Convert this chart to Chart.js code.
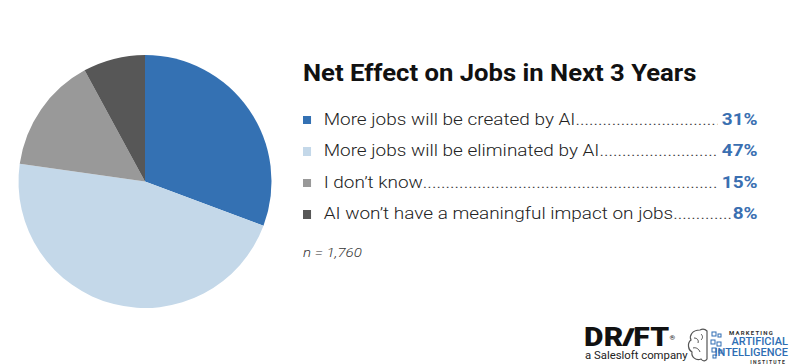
<!DOCTYPE html>
<html>
<head>
<meta charset="utf-8">
<script src="https://cdn.jsdelivr.net/npm/chart.js@4.4.1/dist/chart.umd.min.js"></script>
<style>
  html, body { margin:0; padding:0; background:#fff; }
  body { width:790px; height:364px; position:relative; overflow:hidden; font-family: Roboto, "Liberation Sans", Arial, sans-serif; }
  #pieWrap { position:absolute; left:0; top:0; width:290px; height:364px; }
  #title { position:absolute; left:303px; top:62px; font-size:23px; line-height:23px; font-weight:700; color:#111; white-space:nowrap; transform:scaleX(1.115); transform-origin:0 0; }
  #legend { position:absolute; left:303px; top:103.8px; width:396px; transform:scaleX(1.148); transform-origin:0 0; }
  .row { display:flex; align-items:baseline; height:31.5px; line-height:31.5px; font-size:16.5px; white-space:nowrap; }
  .sw { display:inline-block; width:7.4px; height:8.5px; margin-right:10.6px; flex:none; position:relative; top:-0.8px; }
  .lab { font-weight:300; color:#222; flex:none; }
  .dots { flex:1 1 auto; overflow:hidden; font-weight:300; color:#333; }
  .pct { flex:none; font-weight:700; color:#3a6fb1; margin-left:4px; }
  .row:nth-child(4) .pct { margin-left:0; }
  #n { position:absolute; left:303px; top:246px; font-size:13.5px; line-height:13px; font-style:italic; color:#333; font-weight:300; transform:scaleX(1.12); transform-origin:0 0; }
  #drift { position:absolute; left:584px; top:325px; font-size:25px; line-height:25px; font-weight:900; color:#111; letter-spacing:0.3px; transform:scaleX(1.2); transform-origin:0 0; white-space:nowrap; }
  #drift sup { font-size:6px; vertical-align:top; font-weight:400; }
  #sales { position:absolute; left:585px; top:350px; font-size:10.5px; line-height:11px; color:#222; transform:scaleX(1.08); transform-origin:0 0; white-space:nowrap; }
  #mai { position:absolute; left:686px; top:326px; width:104px; height:38px; }
  .m1 { position:absolute; left:43px; top:3px; font-size:6px; font-weight:700; letter-spacing:1.2px; color:#333; }
  .m2 { position:absolute; right:2px; top:10px; font-size:11px; line-height:11px; font-weight:500; color:#2e6db3; }
  .m3 { position:absolute; right:2px; top:21px; font-size:11px; line-height:11px; font-weight:500; color:#2e6db3; }
  .m4 { position:absolute; right:4px; top:33px; font-size:5px; font-weight:700; letter-spacing:1.2px; color:#333; }
</style>
</head>
<body>
<div id="pieWrap"><canvas id="pie"></canvas></div>
<div id="title">Net Effect on Jobs in Next 3 Years</div>
<div id="legend"></div>
<div id="n">n = 1,760</div>
<div id="drift">DR<span style="display:inline-block;transform:skewX(-20deg)">I</span>FT<sup>®</sup></div>
<div id="sales">a Salesloft company</div>
<div id="mai">
  <svg width="40" height="38" style="position:absolute;left:0;top:0">
    <path d="M14 4 C6 4 3 10 5 14 C1 17 2 24 6 26 C5 31 10 35 15 33 C17 36 20 35 21 33 L21 5 C19 3 16 3 14 4 Z" fill="none" stroke="#555" stroke-width="1.2"/>
    <path d="M8 12 C11 12 13 14 12 17 M7 22 C10 21 13 23 14 26 M15 8 C17 10 17 12 15 14" fill="none" stroke="#555" stroke-width="1"/>
    <rect x="26" y="6" width="4" height="4" fill="none" stroke="#2e6db3"/>
    <rect x="32" y="8" width="3" height="3" fill="none" stroke="#2e6db3"/>
    <rect x="25" y="14" width="4" height="4" fill="none" stroke="#2e6db3"/>
    <rect x="31" y="16" width="4" height="4" fill="none" stroke="#2e6db3"/>
    <rect x="26" y="22" width="4" height="4" fill="none" stroke="#2e6db3"/>
    <rect x="33" y="24" width="3" height="3" fill="none" stroke="#2e6db3"/>
    <rect x="27" y="29" width="3" height="3" fill="none" stroke="#2e6db3"/>
  </svg>
  <div class="m1">MARKETING</div>
  <div class="m2">ARTIFICIAL</div>
  <div class="m3">INTELLIGENCE</div>
  <div class="m4">INSTITUTE</div>
</div>
<script>
const categories = [
  "More jobs will be created by AI",
  "More jobs will be eliminated by AI ",
  "I don\u2019t know",
  "AI won\u2019t have a meaningful impact on jobs "
];
const shares = [31, 47, 15, 8];
const pctLabels = ["31%", "47%", "15%", "8%"];
const colors = ["#3471b3", "#c4d8e9", "#999999", "#575757"];

const legend = document.getElementById('legend');
categories.forEach((c, i) => {
  const row = document.createElement('div');
  row.className = 'row';
  const sw = document.createElement('span');
  sw.className = 'sw';
  sw.style.background = colors[i];
  const lab = document.createElement('span');
  lab.className = 'lab';
  lab.textContent = c;
  const dots = document.createElement('span');
  dots.className = 'dots';
  dots.textContent = '.'.repeat(200);
  const pct = document.createElement('span');
  pct.className = 'pct';
  pct.textContent = pctLabels[i];
  row.append(sw, lab, dots, pct);
  legend.appendChild(row);
});

new Chart(document.getElementById('pie'), {
  type: 'pie',
  data: {
    labels: categories,
    datasets: [{ data: shares, backgroundColor: colors, borderWidth: 0 }]
  },
  options: {
    responsive: true,
    maintainAspectRatio: false,
    animation: false,
    layout: { padding: { left: 18, right: 18, top: 55, bottom: 56 } },
    plugins: { legend: { display: false }, tooltip: { enabled: false } }
  }
});
</script>
</body>
</html>
